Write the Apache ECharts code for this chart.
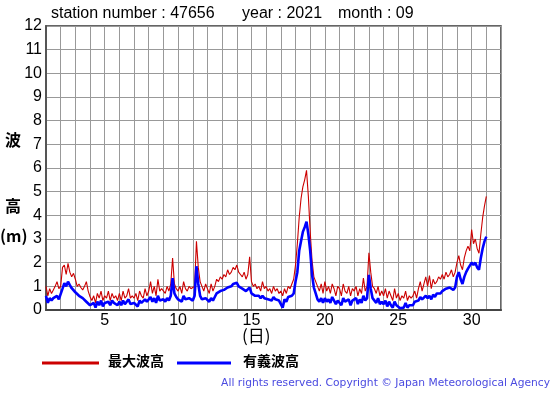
<!DOCTYPE html>
<html>
<head>
<meta charset="utf-8">
<script src="https://cdn.jsdelivr.net/npm/echarts@6/dist/echarts.min.js"></script>
<style>
html,body{margin:0;padding:0;background:#fff;}
#c{width:555px;height:395px;}
</style>
</head>
<body>
<div id="c"></div>
<script>
// 3-hourly readings, starting 1st 00:00 (8 per day), last value = 31st 00:00
var startDay = 1;
var stepDay = 1 / 8;
var maxWave = [
  1.0, 0.6, 0.9, 0.7, 0.85, 1.0, 1.2, 0.9,
  1.0, 1.8, 1.9, 1.5, 1.97, 1.6, 1.4, 1.55,
  1.3, 1.0, 1.1, 0.95, 0.85, 1.0, 1.2, 0.8,
  0.56, 0.4, 0.6, 0.3, 0.7, 0.5, 0.8, 0.4,
  0.6, 0.5, 0.8, 0.4, 0.7, 0.5, 0.6, 0.4,
  0.7, 0.4, 0.8, 0.5, 0.6, 0.9, 0.5, 0.6,
  0.5, 0.7, 0.4, 0.8, 0.6, 0.5, 0.9, 0.6,
  0.8, 1.2, 0.7, 1.0, 0.6, 1.3, 0.8, 0.9,
  0.9, 0.7, 1.0, 0.8, 1.1, 2.2, 1.1, 0.9,
  0.8, 1.0, 0.7, 1.2, 0.9, 0.8, 1.0, 0.9,
  0.9, 1.0, 2.9, 1.8, 1.2, 1.0, 0.8, 1.1,
  0.9, 0.7, 1.1, 0.8, 1.0, 1.3, 1.2, 1.4,
  1.3, 1.5, 1.4, 1.7, 1.5, 1.6, 1.8, 1.7,
  1.9, 1.6, 1.5, 1.4, 1.6, 1.3, 1.5, 2.25,
  1.2, 1.0, 1.1, 0.9, 1.0, 0.8, 1.2, 0.9,
  1.0, 0.8, 0.9, 0.7, 1.0, 0.8, 0.9, 0.7,
  0.8, 0.6, 0.9, 0.7, 1.0, 0.9, 1.1, 1.3,
  1.9, 2.8, 3.9, 4.7, 5.2, 5.5, 5.9, 4.8,
  3.3, 2.1, 1.4, 1.2, 1.0, 0.8, 1.1, 0.7,
  1.2, 0.8, 1.0, 0.7, 1.1, 0.9, 0.6, 1.0,
  0.9, 0.6, 1.1, 0.8, 0.7, 1.0, 0.6, 0.9,
  0.8, 1.0, 0.6, 0.9, 0.7, 1.35, 0.8, 1.0,
  2.42, 1.6, 1.0, 0.9, 0.7, 1.0, 0.6, 0.8,
  0.6, 0.9, 0.5, 0.8, 0.6, 0.4, 0.9, 0.5,
  0.7, 0.4, 0.6, 0.5, 0.8, 0.4, 0.6, 0.5,
  0.6, 0.8, 0.5, 0.9, 1.2, 0.8, 1.1, 1.4,
  1.0, 1.45, 0.9, 1.3, 1.1, 1.2, 1.4, 1.3,
  1.5, 1.3, 1.6, 1.4, 1.5, 1.7, 1.4, 1.6,
  2.0, 2.3, 1.9, 1.7, 2.2, 2.5, 2.7, 2.5,
  3.4, 2.8, 3.0, 2.6, 2.4, 3.2, 3.9, 4.4,
  4.8
];
var sigWave = [
  0.6, 0.3, 0.5, 0.4, 0.5, 0.55, 0.6, 0.45,
  0.5, 0.9, 1.13, 1.0, 1.2, 1.05, 0.92, 0.85,
  0.75, 0.7, 0.6, 0.55, 0.5, 0.45, 0.35, 0.3,
  0.2, 0.15, 0.3, 0.1, 0.35, 0.2, 0.4, 0.15,
  0.3, 0.25, 0.35, 0.2, 0.4, 0.3, 0.3, 0.2,
  0.35, 0.2, 0.4, 0.25, 0.35, 0.45, 0.25, 0.3,
  0.3, 0.35, 0.15, 0.4, 0.3, 0.25, 0.45, 0.35,
  0.4, 0.55, 0.35, 0.5, 0.3, 0.6, 0.4, 0.45,
  0.45, 0.35, 0.5, 0.4, 0.6, 1.35, 0.7, 0.55,
  0.45, 0.5, 0.35, 0.6, 0.45, 0.4, 0.5, 0.45,
  0.4, 0.6, 1.85, 1.1, 0.6, 0.45, 0.4, 0.5,
  0.45, 0.35, 0.5, 0.4, 0.55, 0.7, 0.75, 0.8,
  0.8, 0.85, 0.8, 0.95, 0.9, 1.0, 1.1, 1.05,
  1.15, 1.0, 0.95, 0.9, 0.85, 0.8, 0.85, 0.95,
  0.7, 0.65, 0.6, 0.55, 0.6, 0.5, 0.6, 0.5,
  0.5, 0.45, 0.5, 0.4, 0.55, 0.45, 0.5, 0.4,
  0.4, 0.1, 0.45, 0.35, 0.55, 0.5, 0.6, 0.7,
  1.2, 1.6, 2.5, 2.9, 3.3, 3.5, 3.73, 3.2,
  2.5, 1.5, 0.95, 0.7, 0.45, 0.35, 0.5, 0.3,
  0.5, 0.35, 0.45, 0.3, 0.55, 0.4, 0.25, 0.4,
  0.4, 0.2, 0.5, 0.35, 0.3, 0.45, 0.2, 0.4,
  0.35, 0.5, 0.25, 0.45, 0.3, 0.6, 0.4, 0.5,
  1.48, 0.9, 0.5, 0.45, 0.3, 0.5, 0.25, 0.35,
  0.25, 0.4, 0.15, 0.35, 0.2, 0.1, 0.35, 0.2,
  0.2, 0.07, 0.15, 0.1, 0.3, 0.1, 0.2, 0.15,
  0.2, 0.35, 0.3, 0.4, 0.55, 0.45, 0.5, 0.6,
  0.5, 0.6, 0.45, 0.65, 0.55, 0.7, 0.75, 0.7,
  0.8, 0.75, 0.9, 0.85, 0.95, 1.0, 0.85, 0.95,
  1.4, 1.6, 1.3, 1.1, 1.4, 1.6, 1.75, 1.8,
  2.0, 1.9, 2.0, 1.8, 1.7, 2.2, 2.6, 2.9,
  3.1
];
var xLabelDays = [5, 10, 15, 20, 25, 30];
var seriesNames = ['最大波高', '有義波高'];
var titleParts = ['station number : 47656', 'year : 2021', 'month : 09'];

function toPairs(arr) {
  return arr.map(function (v, i) { return [startDay + i * stepDay, v]; });
}

var chart = echarts.init(document.getElementById('c'), null, {renderer: 'canvas'});
var sans = '"Liberation Sans", Arial, sans-serif';
var cjk = '"Noto Sans CJK JP", sans-serif';

chart.setOption({
  animation: false,
  backgroundColor: '#ffffff',
  grid: {left: 46, right: 54, top: 26, bottom: 85, show: true, borderColor: '#333', borderWidth: 1.5, backgroundColor: 'transparent'},
  xAxis: {
    type: 'value', min: 1, max: 32, interval: 1,
    axisLine: {show: true, lineStyle: {color: '#444', width: 2}},
    axisTick: {show: false},
    splitLine: {show: true, lineStyle: {color: '#999', width: 1}},
    axisLabel: {
      color: '#000', fontFamily: sans, fontSize: 16, margin: 3,
      formatter: function (v) { return xLabelDays.indexOf(v) >= 0 ? String(v) : ''; }
    }
  },
  yAxis: {
    type: 'value', min: 0, max: 12, interval: 1,
    axisLine: {show: true, lineStyle: {color: '#555', width: 2}},
    axisTick: {show: false},
    splitLine: {show: true, lineStyle: {color: '#999', width: 1}},
    axisLabel: {color: '#000', fontFamily: sans, fontSize: 16, margin: 4}
  },
  series: [
    {
      name: seriesNames[0], type: 'line', showSymbol: false, data: toPairs(maxWave),
      lineStyle: {color: '#cc0000', width: 1.1}, z: 2
    },
    {
      name: seriesNames[1], type: 'line', showSymbol: false, data: toPairs(sigWave),
      lineStyle: {color: '#0000ff', width: 2.6}, z: 3
    }
  ],
  graphic: [
    {type: 'text', left: 51, top: 6, style: {text: titleParts[0], font: '16px ' + sans, fill: '#000'}},
    {type: 'text', left: 242, top: 6, style: {text: titleParts[1], font: '16px ' + sans, fill: '#000'}},
    {type: 'text', left: 338, top: 6, style: {text: titleParts[2], font: '16px ' + sans, fill: '#000'}},
    {type: 'text', left: 5, top: 132, style: {text: '波', font: 'bold 16px ' + cjk, fill: '#000'}},
    {type: 'text', left: 5, top: 198, style: {text: '高', font: 'bold 16px ' + cjk, fill: '#000'}},
    {type: 'text', left: 0, top: 228, style: {text: '(m)', font: 'bold 16px ' + cjk, fill: '#000'}},
    {type: 'text', left: 242, top: 327, style: {text: '(日)', font: '17px ' + cjk, fill: '#000'}},
    {type: 'rect', shape: {x: 42, y: 361.5, width: 57, height: 3}, style: {fill: '#cc0000'}},
    {type: 'text', left: 108, top: 354, style: {text: seriesNames[0], font: 'bold 14px ' + cjk, fill: '#000'}},
    {type: 'rect', shape: {x: 177, y: 361.5, width: 54, height: 3}, style: {fill: '#0000ff'}},
    {type: 'text', left: 243, top: 354, style: {text: seriesNames[1], font: 'bold 14px ' + cjk, fill: '#000'}},
    {type: 'text', right: 5, top: 378, style: {text: 'All rights reserved. Copyright © Japan Meteorological Agency', font: '10.7px "DejaVu Sans", sans-serif', fill: '#4a4ae0'}}
  ]
});
</script>
</body>
</html>
